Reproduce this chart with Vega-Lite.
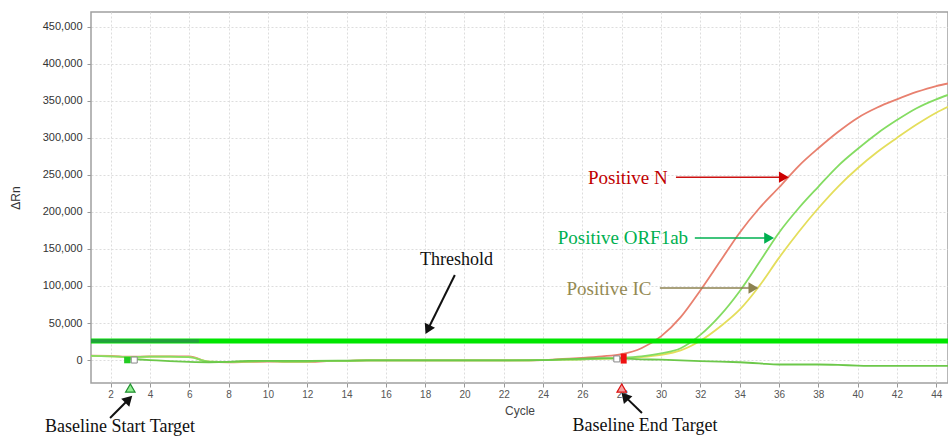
{
  "$schema": "https://vega.github.io/schema/vega-lite/v6.json",
  "width": 857,
  "height": 371,
  "autosize": "none",
  "padding": {"left": 91, "top": 12, "right": 0, "bottom": 54},
  "background": "white",
  "config": {
    "view": {"stroke": "#a0a0a0", "strokeWidth": 1.5},
    "axis": {
      "labelFont": "Liberation Sans", "titleFont": "Liberation Sans",
      "titleFontWeight": "normal", "grid": true, "gridColor": "#dddddd",
      "gridDash": [2, 2], "domain": false, "tickColor": "#999999", "tickSize": 4
    }
  },
  "datasets": {
    "curves": [
      {"cycle":1,"value":6000,"series":"N"},{"cycle":2,"value":5500,"series":"N"},{"cycle":3,"value":4500,"series":"N"},{"cycle":4,"value":5000,"series":"N"},{"cycle":5,"value":5000,"series":"N"},{"cycle":6,"value":5000,"series":"N"},{"cycle":7,"value":-2500,"series":"N"},{"cycle":8,"value":-3000,"series":"N"},{"cycle":9,"value":-2500,"series":"N"},{"cycle":10,"value":-2000,"series":"N"},{"cycle":11,"value":-2500,"series":"N"},{"cycle":12,"value":-2500,"series":"N"},{"cycle":13,"value":-1500,"series":"N"},{"cycle":14,"value":-1000,"series":"N"},{"cycle":15,"value":-500,"series":"N"},{"cycle":16,"value":-500,"series":"N"},{"cycle":17,"value":-500,"series":"N"},{"cycle":18,"value":-500,"series":"N"},{"cycle":19,"value":-500,"series":"N"},{"cycle":20,"value":-500,"series":"N"},{"cycle":21,"value":-500,"series":"N"},{"cycle":22,"value":-500,"series":"N"},{"cycle":23,"value":-500,"series":"N"},{"cycle":24,"value":0,"series":"N"},{"cycle":25,"value":1500,"series":"N"},{"cycle":26,"value":3000,"series":"N"},{"cycle":27,"value":5000,"series":"N"},{"cycle":28,"value":8000,"series":"N"},{"cycle":29,"value":16000,"series":"N"},{"cycle":30,"value":32000,"series":"N"},{"cycle":31,"value":58000,"series":"N"},{"cycle":32,"value":94000,"series":"N"},{"cycle":33,"value":133000,"series":"N"},{"cycle":34,"value":172000,"series":"N"},{"cycle":35,"value":205000,"series":"N"},{"cycle":36,"value":233000,"series":"N"},{"cycle":37,"value":262000,"series":"N"},{"cycle":38,"value":286000,"series":"N"},{"cycle":39,"value":308000,"series":"N"},{"cycle":40,"value":327000,"series":"N"},{"cycle":41,"value":341000,"series":"N"},{"cycle":42,"value":352000,"series":"N"},{"cycle":43,"value":362000,"series":"N"},{"cycle":44,"value":370000,"series":"N"},{"cycle":44.6,"value":373500,"series":"N"},

      {"cycle":1,"value":5500,"series":"IC"},{"cycle":2,"value":5000,"series":"IC"},{"cycle":3,"value":4000,"series":"IC"},{"cycle":4,"value":4500,"series":"IC"},{"cycle":5,"value":4500,"series":"IC"},{"cycle":6,"value":4000,"series":"IC"},{"cycle":7,"value":-2000,"series":"IC"},{"cycle":8,"value":-2500,"series":"IC"},{"cycle":9,"value":-2000,"series":"IC"},{"cycle":10,"value":-1500,"series":"IC"},{"cycle":11,"value":-2000,"series":"IC"},{"cycle":12,"value":-2000,"series":"IC"},{"cycle":13,"value":-1000,"series":"IC"},{"cycle":14,"value":-1000,"series":"IC"},{"cycle":15,"value":-500,"series":"IC"},{"cycle":16,"value":-500,"series":"IC"},{"cycle":17,"value":-500,"series":"IC"},{"cycle":18,"value":-500,"series":"IC"},{"cycle":19,"value":-500,"series":"IC"},{"cycle":20,"value":-500,"series":"IC"},{"cycle":21,"value":-500,"series":"IC"},{"cycle":22,"value":-500,"series":"IC"},{"cycle":23,"value":-500,"series":"IC"},{"cycle":24,"value":0,"series":"IC"},{"cycle":25,"value":500,"series":"IC"},{"cycle":26,"value":1000,"series":"IC"},{"cycle":27,"value":1500,"series":"IC"},{"cycle":28,"value":2500,"series":"IC"},{"cycle":29,"value":4000,"series":"IC"},{"cycle":30,"value":7000,"series":"IC"},{"cycle":31,"value":13000,"series":"IC"},{"cycle":32,"value":26000,"series":"IC"},{"cycle":33,"value":45000,"series":"IC"},{"cycle":34,"value":68000,"series":"IC"},{"cycle":35,"value":100000,"series":"IC"},{"cycle":36,"value":138000,"series":"IC"},{"cycle":37,"value":173000,"series":"IC"},{"cycle":38,"value":205000,"series":"IC"},{"cycle":39,"value":234000,"series":"IC"},{"cycle":40,"value":259000,"series":"IC"},{"cycle":41,"value":281000,"series":"IC"},{"cycle":42,"value":300000,"series":"IC"},{"cycle":43,"value":318000,"series":"IC"},{"cycle":44,"value":334000,"series":"IC"},{"cycle":44.6,"value":342000,"series":"IC"},

      {"cycle":1,"value":5500,"series":"ORF1ab"},{"cycle":2,"value":5000,"series":"ORF1ab"},{"cycle":3,"value":4000,"series":"ORF1ab"},{"cycle":4,"value":4500,"series":"ORF1ab"},{"cycle":5,"value":4500,"series":"ORF1ab"},{"cycle":6,"value":4000,"series":"ORF1ab"},{"cycle":7,"value":-2000,"series":"ORF1ab"},{"cycle":8,"value":-2500,"series":"ORF1ab"},{"cycle":9,"value":-2000,"series":"ORF1ab"},{"cycle":10,"value":-1500,"series":"ORF1ab"},{"cycle":11,"value":-2000,"series":"ORF1ab"},{"cycle":12,"value":-2000,"series":"ORF1ab"},{"cycle":13,"value":-1000,"series":"ORF1ab"},{"cycle":14,"value":-1000,"series":"ORF1ab"},{"cycle":15,"value":-500,"series":"ORF1ab"},{"cycle":16,"value":-500,"series":"ORF1ab"},{"cycle":17,"value":-500,"series":"ORF1ab"},{"cycle":18,"value":-500,"series":"ORF1ab"},{"cycle":19,"value":-500,"series":"ORF1ab"},{"cycle":20,"value":-500,"series":"ORF1ab"},{"cycle":21,"value":-500,"series":"ORF1ab"},{"cycle":22,"value":-500,"series":"ORF1ab"},{"cycle":23,"value":-500,"series":"ORF1ab"},{"cycle":24,"value":0,"series":"ORF1ab"},{"cycle":25,"value":500,"series":"ORF1ab"},{"cycle":26,"value":1000,"series":"ORF1ab"},{"cycle":27,"value":2000,"series":"ORF1ab"},{"cycle":28,"value":3000,"series":"ORF1ab"},{"cycle":29,"value":5000,"series":"ORF1ab"},{"cycle":30,"value":9000,"series":"ORF1ab"},{"cycle":31,"value":16000,"series":"ORF1ab"},{"cycle":32,"value":34000,"series":"ORF1ab"},{"cycle":33,"value":60000,"series":"ORF1ab"},{"cycle":34,"value":93000,"series":"ORF1ab"},{"cycle":35,"value":132000,"series":"ORF1ab"},{"cycle":36,"value":172000,"series":"ORF1ab"},{"cycle":37,"value":205000,"series":"ORF1ab"},{"cycle":38,"value":234000,"series":"ORF1ab"},{"cycle":39,"value":262000,"series":"ORF1ab"},{"cycle":40,"value":285000,"series":"ORF1ab"},{"cycle":41,"value":306000,"series":"ORF1ab"},{"cycle":42,"value":324000,"series":"ORF1ab"},{"cycle":43,"value":340000,"series":"ORF1ab"},{"cycle":44,"value":352000,"series":"ORF1ab"},{"cycle":44.6,"value":358000,"series":"ORF1ab"},

      {"cycle":3,"value":1500,"series":"Negative"},{"cycle":4,"value":0,"series":"Negative"},{"cycle":5,"value":-1500,"series":"Negative"},{"cycle":6,"value":-2500,"series":"Negative"},{"cycle":7,"value":-3000,"series":"Negative"},{"cycle":8,"value":-2500,"series":"Negative"},{"cycle":9,"value":-1000,"series":"Negative"},{"cycle":10,"value":-1000,"series":"Negative"},{"cycle":12,"value":-1000,"series":"Negative"},{"cycle":14,"value":-800,"series":"Negative"},{"cycle":16,"value":-500,"series":"Negative"},{"cycle":18,"value":-500,"series":"Negative"},{"cycle":20,"value":-500,"series":"Negative"},{"cycle":22,"value":-500,"series":"Negative"},{"cycle":24,"value":0,"series":"Negative"},{"cycle":25,"value":1000,"series":"Negative"},{"cycle":26,"value":2000,"series":"Negative"},{"cycle":27,"value":2500,"series":"Negative"},{"cycle":28,"value":2000,"series":"Negative"},{"cycle":29,"value":1000,"series":"Negative"},{"cycle":30,"value":500,"series":"Negative"},{"cycle":31,"value":-500,"series":"Negative"},{"cycle":32,"value":-1500,"series":"Negative"},{"cycle":33,"value":-2000,"series":"Negative"},{"cycle":34,"value":-3000,"series":"Negative"},{"cycle":35,"value":-4500,"series":"Negative"},{"cycle":36,"value":-6000,"series":"Negative"},{"cycle":37,"value":-6000,"series":"Negative"},{"cycle":38,"value":-6000,"series":"Negative"},{"cycle":39,"value":-6500,"series":"Negative"},{"cycle":40,"value":-7500,"series":"Negative"},{"cycle":41,"value":-8000,"series":"Negative"},{"cycle":42,"value":-8000,"series":"Negative"},{"cycle":43,"value":-8000,"series":"Negative"},{"cycle":44,"value":-8000,"series":"Negative"},{"cycle":44.6,"value":-8000,"series":"Negative"}
    ]
  },
  "encoding": {
    "x": {
      "field": "cycle", "type": "quantitative",
      "scale": {"domain": [1, 44.6], "nice": false, "zero": false},
      "axis": {
        "title": "Cycle", "values": [2,4,6,8,10,12,14,16,18,20,22,24,26,28,30,32,34,36,38,40,42,44],
        "labelFontSize": 10, "labelColor": "#555555", "labelPadding": 2,
        "titleFontSize": 12, "titleColor": "#444444", "titlePadding": 6
      }
    },
    "y": {
      "field": "value", "type": "quantitative",
      "scale": {"domain": [-31000, 470000], "nice": false, "zero": false},
      "axis": {
        "title": "ΔRn", "values": [0,50000,100000,150000,200000,250000,300000,350000,400000,450000],
        "format": ",d", "labelFontSize": 11, "labelColor": "#333333", "labelPadding": 5,
        "titleFontSize": 12, "titleColor": "#333333", "titlePadding": 20
      }
    }
  },
  "layer": [
    {
      "data": {"name": "curves"},
      "mark": {"type": "line", "strokeWidth": 1.8, "interpolate": "monotone"},
      "encoding": {
        "color": {
          "field": "series", "type": "nominal", "legend": null,
          "scale": {"domain": ["Negative", "IC", "ORF1ab", "N"], "range": ["#6cc84a", "#e4de5c", "#84dc62", "#e8806f"]}
        }
      }
    },
    {
      "data": {"values": [{"value": 25600}]},
      "mark": {"type": "rule", "color": "#00e600", "strokeWidth": 5},
      "encoding": {"x": null}
    },
    {
      "data": {"values": [{"cycle": 1, "cycle2": 6.5, "value": 25600}]},
      "mark": {"type": "rule", "color": "#22a03c", "strokeWidth": 3.5},
      "encoding": {"x2": {"field": "cycle2"}}
    },
    {
      "data": {"values": [{"cycle": 2.85, "value": 0}]},
      "mark": {"type": "point", "shape": "square", "filled": true, "color": "#22cc22", "size": 42, "opacity": 1}
    },
    {
      "data": {"values": [{"cycle": 3.2, "value": 0}, {"cycle": 27.75, "value": 1500}]},
      "mark": {"type": "point", "shape": "square", "filled": true, "fill": "white", "stroke": "#888888", "strokeWidth": 1, "size": 36, "opacity": 1}
    },
    {
      "data": {"values": [{"cycle": 28.1, "value": 2000}]},
      "mark": {"type": "point", "shape": "M-0.6,-1L0.6,-1L0.6,1L-0.6,1Z", "filled": true, "color": "#ee1111", "size": 100, "opacity": 1}
    },
    {
      "data": {"values": [{"cycle": 3.0, "value": -37800}]},
      "mark": {"type": "point", "shape": "triangle-up", "filled": true, "fill": "#90ee90", "stroke": "#1f8f2f", "strokeWidth": 1.2, "size": 90, "opacity": 1}
    },
    {
      "data": {"values": [{"cycle": 28.0, "value": -37800}]},
      "mark": {"type": "point", "shape": "triangle-up", "filled": true, "fill": "#f4a0a0", "stroke": "#dd1111", "strokeWidth": 1.2, "size": 90, "opacity": 1}
    },
    {
      "data": {"values": [{"cycle": 30.76, "value": 247000, "cycle2": 36.2, "value2": 247000}]},
      "mark": {"type": "rule", "color": "#cc1111", "strokeWidth": 1.5},
      "encoding": {"x2": {"field": "cycle2"}, "y2": {"field": "value2"}}
    },
    {
      "data": {"values": [{"cycle": 36.25, "value": 247000}]},
      "mark": {"type": "point", "shape": "triangle-up", "angle": 90, "filled": true, "color": "#cc0000", "size": 130, "opacity": 1}
    },
    {
      "data": {"values": [{"cycle": 31.72, "value": 164700, "cycle2": 35.45, "value2": 164700}]},
      "mark": {"type": "rule", "color": "#00b050", "strokeWidth": 1.5},
      "encoding": {"x2": {"field": "cycle2"}, "y2": {"field": "value2"}}
    },
    {
      "data": {"values": [{"cycle": 35.5, "value": 164700}]},
      "mark": {"type": "point", "shape": "triangle-up", "angle": 90, "filled": true, "color": "#00b050", "size": 130, "opacity": 1}
    },
    {
      "data": {"values": [{"cycle": 29.94, "value": 97200, "cycle2": 34.65, "value2": 97200}]},
      "mark": {"type": "rule", "color": "#8c8250", "strokeWidth": 1.5},
      "encoding": {"x2": {"field": "cycle2"}, "y2": {"field": "value2"}}
    },
    {
      "data": {"values": [{"cycle": 34.7, "value": 97200}]},
      "mark": {"type": "point", "shape": "triangle-up", "angle": 90, "filled": true, "color": "#8c8250", "size": 130, "opacity": 1}
    },
    {
      "data": {"values": [
        {"cycle": 19.51, "value": 114750, "cycle2": 18.13, "value2": 41000},
        {"cycle": 1.97, "value": -78300, "cycle2": 2.92, "value2": -52900},
        {"cycle": 29.03, "value": -71550, "cycle2": 28.16, "value2": -49100}
      ]},
      "mark": {"type": "rule", "color": "#111111", "strokeWidth": 2},
      "encoding": {"x2": {"field": "cycle2"}, "y2": {"field": "value2"}}
    },
    {
      "data": {"values": [{"cycle": 18.13, "value": 41000}]},
      "mark": {"type": "point", "shape": "triangle-up", "angle": 206.6, "filled": true, "color": "#111111", "size": 130, "opacity": 1}
    },
    {
      "data": {"values": [{"cycle": 2.92, "value": -52900}]},
      "mark": {"type": "point", "shape": "triangle-up", "angle": 45, "filled": true, "color": "#111111", "size": 130, "opacity": 1}
    },
    {
      "data": {"values": [{"cycle": 28.16, "value": -49100}]},
      "mark": {"type": "point", "shape": "triangle-up", "angle": 318, "filled": true, "color": "#111111", "size": 130, "opacity": 1}
    },
    {
      "data": {"values": [{"cycle": 28.31, "value": 245700, "label": "Positive N"}]},
      "mark": {"type": "text", "font": "Liberation Serif", "fontSize": 19, "color": "#c00000", "align": "center", "baseline": "middle"},
      "encoding": {"text": {"field": "label"}}
    },
    {
      "data": {"values": [{"cycle": 28.06, "value": 164700, "label": "Positive ORF1ab"}]},
      "mark": {"type": "text", "font": "Liberation Serif", "fontSize": 19, "color": "#00b050", "align": "center", "baseline": "middle"},
      "encoding": {"text": {"field": "label"}}
    },
    {
      "data": {"values": [{"cycle": 27.35, "value": 95850, "label": "Positive IC"}]},
      "mark": {"type": "text", "font": "Liberation Serif", "fontSize": 19, "color": "#948a54", "align": "center", "baseline": "middle"},
      "encoding": {"text": {"field": "label"}}
    },
    {
      "data": {"values": [
        {"cycle": 19.6, "value": 135000, "label": "Threshold"},
        {"cycle": 2.48, "value": -89800, "label": "Baseline Start Target"},
        {"cycle": 29.18, "value": -89100, "label": "Baseline End Target"}
      ]},
      "mark": {"type": "text", "font": "Liberation Serif", "fontSize": 18, "color": "#111111", "align": "center", "baseline": "middle"},
      "encoding": {"text": {"field": "label"}}
    }
  ]
}
